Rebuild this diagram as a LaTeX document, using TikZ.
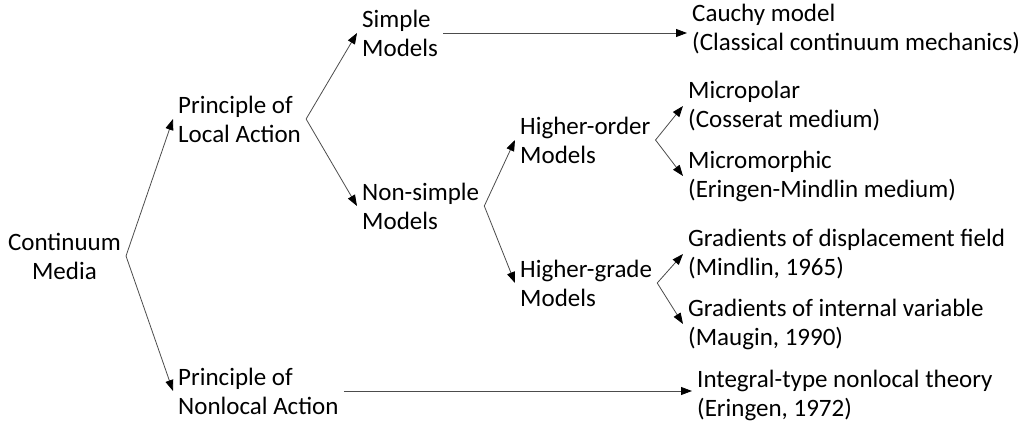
\documentclass[tikz,border=0pt]{standalone}
\usepackage{fontspec}
\setmainfont{Carlito}
\usetikzlibrary{arrows.meta}

\begin{document}
\begin{tikzpicture}[x=1pt,y=-1pt,
  txt/.style={font=\fontsize{25}{29}\selectfont, align=left, inner xsep=5pt, inner ysep=0pt, anchor=west},
  link/.style={-{Triangle[length=11pt,width=8pt,color=black]}, line width=0.8pt, draw=black!70}]
\useasboundingbox (0,0) rectangle (1029,423);
% left side
\node[txt, anchor=east, align=center] (media) at (126,256) {Continuum\\Media};
\node[txt] (local) at (173,119) {Principle of\\Local Action};
\node[txt] (nonlocal) at (173,391) {Principle of\\Nonlocal Action};
% middle
\node[txt] (simple) at (357,33) {Simple\\Models};
\node[txt] (nonsimple) at (357,206) {Non-simple\\Models};
\node[txt] (order) at (515,140) {Higher-order\\Models};
\node[txt] (grade) at (515,283) {Higher-grade\\Models};
% right side
\node[txt] (cauchy) at (687,29) {Cauchy model\\(Classical continuum mechanics)};
\node[txt] (polar) at (683,106) {Micropolar\\(Cosserat medium)};
\node[txt] (morphic) at (683,176) {Micromorphic\\(Eringen-Mindlin medium)};
\node[txt] (displ) at (683,254) {Gradients of displacement field\\(Mindlin, 1965)};
\node[txt] (internal) at (683,324) {Gradients of internal variable\\(Maugin, 1990)};
\node[txt] (integral) at (692,395) {Integral-type nonlocal theory\\(Eringen, 1972)};
% connectors
\draw[link] (media.east) -- (local.west);
\draw[link] (media.east) -- (nonlocal.west);
\draw[link] (local.east) -- (simple.west);
\draw[link] (local.east) -- (nonsimple.west);
\draw[link] (simple.east) -- (simple.east -| cauchy.west);
\draw[link] (nonsimple.east) -- (order.west);
\draw[link] (nonsimple.east) -- (grade.west);
\draw[link] (order.east) -- (polar.west);
\draw[link] (order.east) -- (morphic.west);
\draw[link] (grade.east) -- (displ.west);
\draw[link] (grade.east) -- (internal.west);
\draw[link] (nonlocal.east) -- (nonlocal.east -| integral.west);
\end{tikzpicture}
\end{document}
